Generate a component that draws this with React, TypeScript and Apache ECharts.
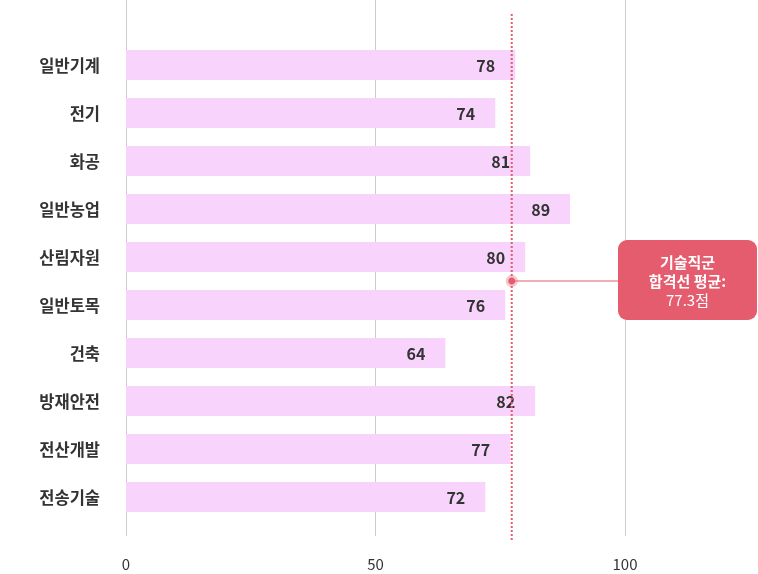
import React, { useEffect, useRef } from "react";
import * as echarts from "echarts";

const categories = ["일반기계", "전기", "화공", "일반농업", "산림자원", "일반토목", "건축", "방재안전", "전산개발", "전송기술"];
const scores = [78, 74, 81, 89, 80, 76, 64, 82, 77, 72];
const average = 77.3;
const calloutLines = ["기술직군", "합격선 평균:", "77.3점"];

const FONT = "'Noto Sans CJK KR', 'Noto Sans', sans-serif";
const ACCENT = "#e45c6e";

export default function App() {
  const ref = useRef<HTMLDivElement>(null);
  useEffect(() => {
    if (!ref.current) return;
    const chart = echarts.init(ref.current, null, { renderer: "svg" });
    chart.setOption({
      animation: false,
      textStyle: { fontFamily: FONT },
      grid: [
        { left: 126, right: 133, top: 0, bottom: 38 },
        { left: 126, right: 133, top: 41, bottom: 53 },
      ],
      xAxis: [
        {
          type: "value",
          gridIndex: 0,
          min: 0,
          max: 100,
          interval: 50,
          axisLine: { show: false },
          axisTick: { show: false },
          splitLine: { show: true, lineStyle: { color: "#cccccc", width: 1 } },
          axisLabel: { color: "#333", fontSize: 15, margin: 20, fontFamily: FONT },
        },
        {
          type: "value",
          gridIndex: 1,
          min: 0,
          max: 100,
          show: false,
          splitLine: { show: false },
        },
      ],
      yAxis: [
        {
          type: "category",
          gridIndex: 0,
          data: [""],
          show: false,
        },
        {
          type: "category",
          gridIndex: 1,
          data: categories,
          inverse: true,
          axisLine: { show: false },
          axisTick: { show: false },
          axisLabel: { color: "#333", fontSize: 16.5, fontWeight: "bold", margin: 26, fontFamily: FONT },
        },
      ],
      series: [
        {
          type: "bar",
          xAxisIndex: 1,
          yAxisIndex: 1,
          data: scores,
          barWidth: 30,
          itemStyle: { color: "#f8d4fc" },
          label: {
            show: true,
            position: "insideRight",
            distance: 20,
            color: "#333",
            fontSize: 16,
            fontWeight: "bold",
            fontFamily: FONT,
          },
        },
      ],
    });

    const x = chart.convertToPixel({ xAxisIndex: 0 }, average) as number;
    const my = 281;
    const boxX = 618;
    const boxW = 139;
    const boxY = 240;
    const boxH = 80;
    const cx = boxX + boxW / 2;
    chart.setOption({
      graphic: [
        {
          type: "line",
          shape: { x1: x, y1: 14, x2: x, y2: 541 },
          style: { stroke: ACCENT, lineWidth: 2, lineDash: [2, 2] },
          z: 10,
        },
        {
          type: "line",
          shape: { x1: x, y1: my, x2: boxX, y2: my },
          style: { stroke: ACCENT, lineWidth: 1 },
          z: 10,
        },
        {
          type: "circle",
          shape: { cx: x, cy: my, r: 6 },
          style: { fill: ACCENT, opacity: 0.35 },
          z: 11,
        },
        {
          type: "circle",
          shape: { cx: x, cy: my, r: 3.5 },
          style: { fill: ACCENT },
          z: 12,
        },
        {
          type: "rect",
          shape: { x: boxX, y: boxY, width: boxW, height: boxH, r: 9 },
          style: { fill: ACCENT },
          z: 12,
        },
        {
          type: "text",
          x: cx,
          y: 261,
          style: { text: calloutLines[0], fill: "#fff", font: `bold 15px ${FONT}`, align: "center", verticalAlign: "middle" },
          z: 13,
        },
        {
          type: "text",
          x: cx,
          y: 280,
          style: { text: calloutLines[1], fill: "#fff", font: `bold 15px ${FONT}`, align: "center", verticalAlign: "middle" },
          z: 13,
        },
        {
          type: "text",
          x: cx,
          y: 299,
          style: { text: calloutLines[2], fill: "#fff", font: `15px ${FONT}`, align: "center", verticalAlign: "middle" },
          z: 13,
        },
      ],
    });
    return () => chart.dispose();
  }, []);
  return <div ref={ref} style={{ position: "fixed", left: 0, top: 0, width: 758, height: 574 }} />;
}
